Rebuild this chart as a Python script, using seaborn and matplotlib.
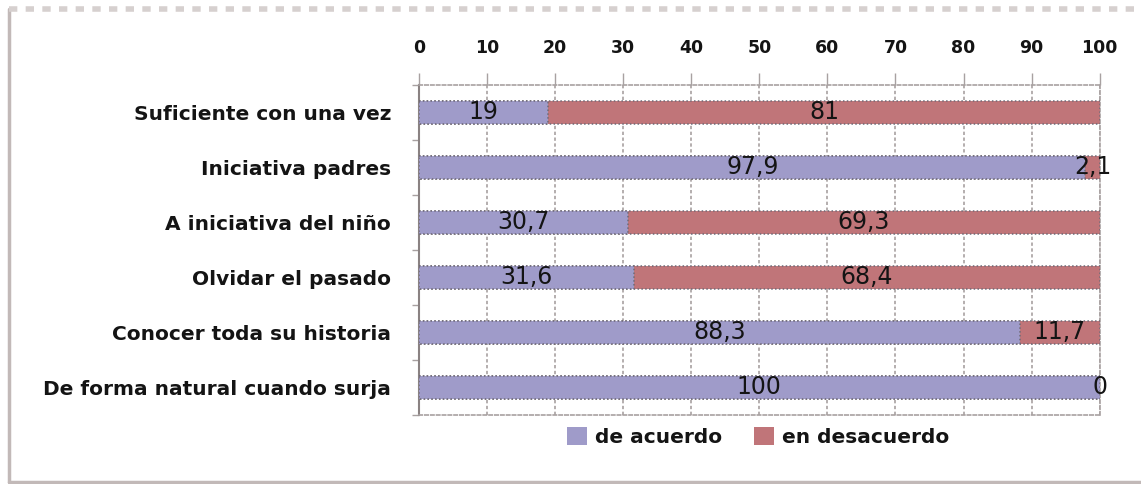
"""Stacked horizontal bar chart: de acuerdo / en desacuerdo."""

import matplotlib

matplotlib.use("Agg")
import matplotlib.pyplot as plt
import pandas as pd
import seaborn as sns
from matplotlib.lines import Line2D
from matplotlib.patches import Patch
from matplotlib.ticker import MultipleLocator

categories = [
    "Suficiente con una vez",
    "Iniciativa padres",
    "A iniciativa del niño",
    "Olvidar el pasado",
    "Conocer toda su historia",
    "De forma natural cuando surja",
]
de_acuerdo = [19, 97.9, 30.7, 31.6, 88.3, 100]
en_desacuerdo = [81, 2.1, 69.3, 68.4, 11.7, 0]
series_names = ["de acuerdo", "en desacuerdo"]
x_ticks = [0, 10, 20, 30, 40, 50, 60, 70, 80, 90, 100]

COLORS = {"de acuerdo": "#9f9bc9", "en desacuerdo": "#c07579"}
EDGE = "#6f6a76"
GRID = "#a8a1a1"
TEXT = "#141414"

sns.set_style("white")
plt.rcParams["font.family"] = ["DejaVu Sans"]
plt.rcParams["text.color"] = TEXT
plt.rcParams["xtick.labelcolor"] = TEXT
plt.rcParams["ytick.labelcolor"] = TEXT

df = pd.DataFrame(
    {"categoria": categories, "acuerdo": de_acuerdo, "desacuerdo": en_desacuerdo}
)
df["total"] = df["acuerdo"] + df["desacuerdo"]

fig = plt.figure(figsize=(11.41, 4.84), dpi=100)
ax = fig.add_axes([0.3672, 0.1426, 0.5966, 0.6818])

bar_kws = dict(width=0.43, linewidth=1.1, edgecolor=EDGE, linestyle=(0, (1, 1.5)))
sns.barplot(data=df, y="categoria", x="total", color=COLORS["en desacuerdo"],
            saturation=1, ax=ax, zorder=3, **bar_kws)
sns.barplot(data=df, y="categoria", x="acuerdo", color=COLORS["de acuerdo"],
            saturation=1, ax=ax, zorder=3, **bar_kws)


def fmt(v):
    return f"{v:g}".replace(".", ",")


for i, row in df.iterrows():
    ax.text(row["acuerdo"] / 2, i, fmt(row["acuerdo"]), ha="center", va="center",
            fontsize=17, color=TEXT, zorder=5)
    ax.text(row["acuerdo"] + row["desacuerdo"] / 2, i, fmt(row["desacuerdo"]),
            ha="center", va="center", fontsize=17, color=TEXT, zorder=5)

ax.set_xlim(0, 100)
ax.set_ylim(len(categories) - 0.5, -0.5)
ax.set_xticks(x_ticks)
ax.xaxis.tick_top()
ax.tick_params(axis="x", which="major", length=9, width=1, color=GRID, pad=11,
               labelsize=12.5)
for lbl in ax.get_xticklabels():
    lbl.set_fontweight("bold")

ax.yaxis.set_minor_locator(MultipleLocator(1, offset=0.5))
ax.tick_params(axis="y", which="major", length=0, pad=20, labelsize=14.5)
ax.tick_params(axis="y", which="minor", length=5, width=1, color=GRID, left=True)
for lbl in ax.get_yticklabels():
    lbl.set_fontweight("bold")
ax.set_xlabel("")
ax.set_ylabel("")

ax.grid(axis="x", color=GRID, linestyle=(0, (2, 1.5)), linewidth=1.2, zorder=0)
ax.set_axisbelow(True)
for side in ["top", "bottom", "right"]:
    ax.spines[side].set_color(GRID)
    ax.spines[side].set_linestyle((0, (2, 1.5)))
    ax.spines[side].set_linewidth(1.2)
ax.spines["left"].set_color("#8a8282")
ax.spines["left"].set_linewidth(1.5)

handles = [Patch(facecolor=COLORS[n], edgecolor="none") for n in series_names]
fig.legend(handles, series_names, loc="center", bbox_to_anchor=(758 / 1141, 1 - 437 / 484),
           ncol=2, frameon=False, handlelength=1.0, handleheight=1.0,
           handletextpad=0.4, columnspacing=1.6, prop={"weight": "bold", "size": 14.5})

# outer chart frame
W, H = 1141, 484
frame = "#c2b9b8"
fig.add_artist(Line2D([9 / W, 9 / W], [1 - 9 / H, 1 - 482 / H], color=frame, lw=2.5))
fig.add_artist(Line2D([9 / W, 1], [1 - 482 / H, 1 - 482 / H], color=frame, lw=2.5))
fig.add_artist(Line2D([9 / W, 1], [1 - 9 / H, 1 - 9 / H], color="#d6d0cf", lw=4,
                      linestyle=(0, (1.5, 1.5))))

fig.savefig("out.png", dpi=100)
